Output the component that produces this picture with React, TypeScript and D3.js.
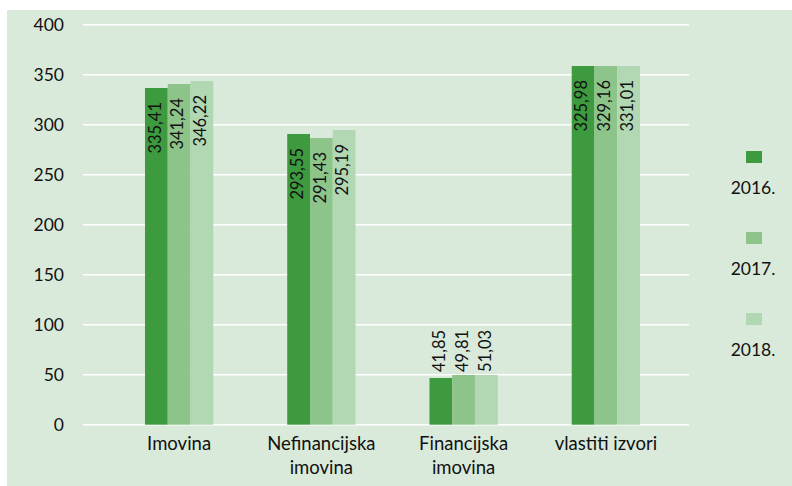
import React from "react";
import * as d3 from "d3";

const categories = ["Imovina", "Nefinancijska imovina", "Financijska imovina", "vlastiti izvori"];
const categoryLines = [["Imovina"], ["Nefinancijska", "imovina"], ["Financijska", "imovina"], ["vlastiti izvori"]];
const series = ["2016.", "2017.", "2018."];
const colors = ["#3e9a3f", "#8dc48a", "#b2d8b3"];

// bar heights as drawn in the picture
const bars2016 = [336.7, 290.7, 46.7, 358.7];
const bars2017 = [340.7, 286.7, 49.7, 358.7];
const bars2018 = [343.7, 294.7, 49.7, 358.7];
// printed value labels
const labels2016 = ["335,41", "293,55", "41,85", "325,98"];
const labels2017 = ["341,24", "291,43", "49,81", "329,16"];
const labels2018 = ["346,22", "295,19", "51,03", "331,01"];

const yTicks = [0, 50, 100, 150, 200, 250, 300, 350, 400];

const W = 792;
const H = 486;
const FONT = "Lato, 'Open Sans', sans-serif";

export default function App() {
  const barSets = [bars2016, bars2017, bars2018];
  const labelSets = [labels2016, labels2017, labels2018];

  const y = d3.scaleLinear().domain([0, 400]).range([424.7, 24.7]);
  const x = d3
    .scaleBand<string>()
    .domain(categories)
    .range([108, 677])
    .paddingInner(0.52)
    .paddingOuter(0.26);
  const xs = d3.scaleBand<string>().domain(series).range([0, x.bandwidth()]);

  const gridX0 = 83;
  const gridX1 = 689;

  return (
    <svg
      width={W}
      height={H}
      style={{ position: "absolute", left: 0, top: 0, fontFamily: FONT }}
    >
      <rect x={7} y={10} width={W - 7} height={H - 10} fill="#d9eada" />
      {yTicks.map((t) => (
        <g key={t}>
          <line x1={gridX0} x2={gridX1} y1={y(t)} y2={y(t)} stroke="#ffffff" strokeWidth={1.6} />
          <text
            x={64}
            y={y(t)}
            dy="0.1em"
            textAnchor="end"
            dominantBaseline="middle"
            fontSize={17.5}
            fill="#111"
          >
            {t}
          </text>
        </g>
      ))}
      {categories.map((c, ci) => {
        const groupMax = d3.max(barSets, (s) => s[ci]) as number;
        return (
          <g key={c} transform={`translate(${x(c)},0)`}>
            {series.map((s, si) => {
              const v = barSets[si][ci];
              const bx = xs(s) as number;
              const bw = xs.bandwidth();
              const small = v < 80;
              const cx = bx + bw / 2;
              const ty = small ? y(groupMax) - 3 : y(v) + 14;
              return (
                <g key={s}>
                  <rect x={bx} y={y(v)} width={bw} height={y(0) - y(v)} fill={colors[si]} />
                  <text
                    transform={`translate(${cx},${ty}) rotate(-90)`}
                    textAnchor={small ? "start" : "end"}
                    dominantBaseline="middle"
                    fontSize={16.5}
                    fill="#111"
                  >
                    {labelSets[si][ci]}
                  </text>
                </g>
              );
            })}
            {categoryLines[ci].map((line, li) => (
              <text
                key={li}
                x={x.bandwidth() / 2}
                y={450 + li * 24}
                textAnchor="middle"
                fontSize={18.5}
                fill="#111"
              >
                {line}
              </text>
            ))}
          </g>
        );
      })}
      {series.map((s, si) => (
        <g key={s} transform={`translate(754,${157 + si * 81})`}>
          <rect x={-8} y={-6} width={16} height={12} fill={colors[si]} />
          <text
            x={-1}
            y={37}
            textAnchor="middle"
            fontSize={17.5}
            fill="#111"
          >
            {s}
          </text>
        </g>
      ))}
    </svg>
  );
}
